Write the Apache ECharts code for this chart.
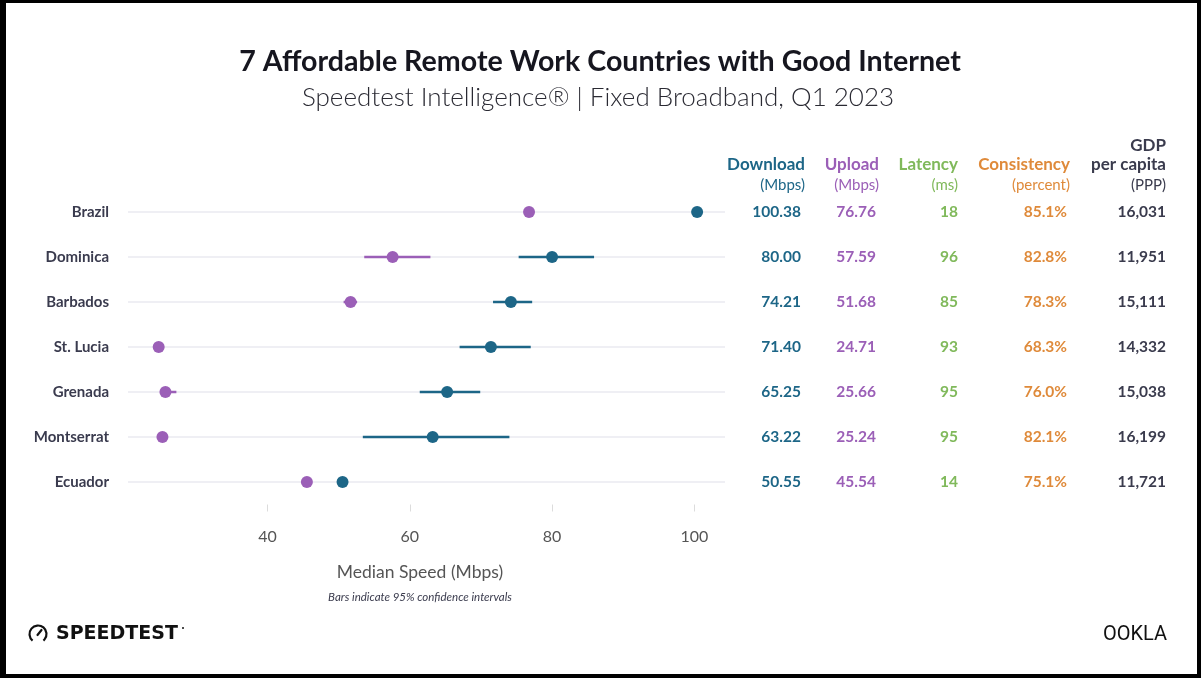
<!DOCTYPE html>
<html>
<head>
<meta charset="utf-8">
<script src="https://cdn.jsdelivr.net/npm/echarts@6/dist/echarts.min.js"></script>
<style>
html,body{margin:0;padding:0;background:#fff;}
#chart{width:1201px;height:678px;}
</style>
</head>
<body>
<div id="chart"></div>
<script>
const categories = ['Brazil', 'Dominica', 'Barbados', 'St. Lucia', 'Grenada', 'Montserrat', 'Ecuador'];
const download = [100.38, 80.00, 74.21, 71.40, 65.25, 63.22, 50.55];
const downloadLow = [100.1, 75.3, 71.7, 67.0, 61.4, 53.4, 50.3];
const downloadHigh = [100.7, 85.9, 77.2, 77.0, 69.9, 74.0, 50.8];
const upload = [76.76, 57.59, 51.68, 24.71, 25.66, 25.24, 45.54];
const uploadLow = [76.5, 53.6, 50.7, 24.4, 25.0, 24.9, 45.3];
const uploadHigh = [77.0, 62.9, 52.6, 25.0, 27.2, 25.6, 45.8];
const latency = [18, 96, 85, 93, 95, 95, 14];
const consistency = [85.1, 82.8, 78.3, 68.3, 76.0, 82.1, 75.1];
const gdp = [16031, 11951, 15111, 14332, 15038, 16199, 11721];
const xTicks = [40, 60, 80, 100];
const columnHeaders = ['Download', 'Upload', 'Latency', 'Consistency', 'per capita'];
const columnUnits = ['(Mbps)', '(Mbps)', '(ms)', '(percent)', '(PPP)'];

const FONT = 'Lato, "Noto Sans", sans-serif';
const C_DL = '#1d6687';
const C_UL = '#9b5fb7';
const C_LAT = '#80b95b';
const C_CON = '#df8a3a';
const C_GDP = '#3a3b4d';
const headerColors = [C_DL, C_UL, C_LAT, C_CON, C_GDP];
const headerRight = [805, 879, 958, 1070, 1166];
const valueRight = [801, 876, 958, 1067, 1166];
const X_MIN = 20.4, X_MAX = 104.3;

const chart = echarts.init(document.getElementById('chart'), null, {renderer: 'canvas'});

const graphics = [
  // frame
  {type: 'rect', shape: {x: 0, y: 0, width: 6, height: 678}, style: {fill: '#000'}, z: 100},
  {type: 'rect', shape: {x: 0, y: 0, width: 1201, height: 3}, style: {fill: '#000'}, z: 100},
  {type: 'rect', shape: {x: 1197, y: 0, width: 4, height: 678}, style: {fill: '#000'}, z: 100},
  {type: 'rect', shape: {x: 0, y: 674, width: 1201, height: 4}, style: {fill: '#000'}, z: 100},
  {type: 'text', x: 600, y: 62, style: {text: '7 Affordable Remote Work Countries with Good Internet', font: 'bold 28.6px ' + FONT, fill: '#16161f', textAlign: 'center', textVerticalAlign: 'middle'}},
  {type: 'text', x: 598, y: 98, style: {text: 'Speedtest Intelligence\u00AE | Fixed Broadband, Q1 2023', font: '300 26px ' + FONT, fill: '#2a2a33', textAlign: 'center', textVerticalAlign: 'middle'}},
  {type: 'text', x: 1166, y: 146, style: {text: 'GDP', font: 'bold 17px ' + FONT, fill: C_GDP, textAlign: 'right', textVerticalAlign: 'middle'}},
  {type: 'text', x: 420, y: 572, style: {text: 'Median Speed (Mbps)', font: '17.5px ' + FONT, fill: '#555', textAlign: 'center', textVerticalAlign: 'middle'}},
  {type: 'text', x: 420, y: 597, style: {text: 'Bars indicate 95% confidence intervals', font: 'italic 11.5px ' + FONT, fill: '#3a3b4d', textAlign: 'center', textVerticalAlign: 'middle'}},
  // Speedtest logo
  {type: 'arc', shape: {cx: 38, cy: 634, r: 8.5, startAngle: Math.PI * 0.72, endAngle: Math.PI * 2.28}, style: {stroke: '#111', lineWidth: 2.2, fill: 'none'}},
  {type: 'line', shape: {x1: 37.5, y1: 635, x2: 41.5, y2: 630}, style: {stroke: '#111', lineWidth: 2.2, lineCap: 'round'}},
  {type: 'text', x: 56, y: 634, style: {text: 'SPEEDTEST', font: 'bold 19px "DejaVu Sans", sans-serif', fill: '#111', textAlign: 'left', textVerticalAlign: 'middle'}},
  {type: 'circle', shape: {cx: 183, cy: 628, r: 1}, style: {fill: '#111'}},
  {type: 'text', x: 1103, y: 635, style: {text: 'OOKLA', font: '400 20px Roboto, sans-serif', fill: '#111', textAlign: 'left', textVerticalAlign: 'middle'}}
];
columnHeaders.forEach((h, k) => {
  graphics.push({type: 'text', x: headerRight[k], y: 165, style: {text: h, font: 'bold 17px ' + FONT, fill: headerColors[k], textAlign: 'right', textVerticalAlign: 'middle'}});
  graphics.push({type: 'text', x: headerRight[k], y: 185, style: {text: columnUnits[k], font: '15px ' + FONT, fill: headerColors[k], textAlign: 'right', textVerticalAlign: 'middle'}});
});

function errorBar(color) {
  return function (params, api) {
    const p1 = api.coord([api.value(0), api.value(2)]);
    const p2 = api.coord([api.value(1), api.value(2)]);
    return {type: 'line', shape: {x1: p1[0], y1: p1[1], x2: p2[0], y2: p2[1]}, style: {stroke: color, lineWidth: 2.5}};
  };
}

const option = {
  backgroundColor: '#fff',
  animation: false,
  textStyle: {fontFamily: FONT},
  grid: {left: 128, right: 1201 - 725, top: 189.5, bottom: 678 - 504.5, containLabel: false},
  xAxis: {
    type: 'value', min: X_MIN, max: X_MAX,
    axisLine: {show: false},
    splitLine: {show: false},
    axisTick: {show: true, customValues: xTicks, length: 7, lineStyle: {color: '#dcdcdc', width: 1}},
    axisLabel: {customValues: xTicks, color: '#555', fontSize: 16, margin: 24, fontFamily: FONT}
  },
  yAxis: {
    type: 'category', data: categories, inverse: true,
    axisLine: {show: false}, axisTick: {show: false}, splitLine: {show: false},
    axisLabel: {color: '#3a3b4e', fontSize: 15, fontWeight: 'bold', margin: 19, fontFamily: FONT}
  },
  graphic: graphics,
  series: [
    {
      type: 'custom', name: 'rows', silent: true, clip: false, z: 1,
      data: categories.map((c, i) => [X_MIN, X_MAX, i]),
      encode: {x: [0, 1], y: 2},
      renderItem: function (params, api) {
        const p1 = api.coord([api.value(0), api.value(2)]);
        const p2 = api.coord([api.value(1), api.value(2)]);
        return {type: 'line', shape: {x1: p1[0], y1: p1[1], x2: p2[0], y2: p2[1]}, style: {stroke: '#efeff4', lineWidth: 2}};
      }
    },
    {
      type: 'custom', name: 'Upload CI', z: 2,
      data: categories.map((c, i) => [uploadLow[i], uploadHigh[i], i]),
      encode: {x: [0, 1], y: 2},
      renderItem: errorBar(C_UL)
    },
    {
      type: 'custom', name: 'Download CI', z: 2,
      data: categories.map((c, i) => [downloadLow[i], downloadHigh[i], i]),
      encode: {x: [0, 1], y: 2},
      renderItem: errorBar(C_DL)
    },
    {
      type: 'scatter', name: 'Upload', z: 3, symbolSize: 12,
      itemStyle: {color: C_UL, opacity: 1},
      data: upload.map((v, i) => [v, i])
    },
    {
      type: 'scatter', name: 'Download', z: 3, symbolSize: 12,
      itemStyle: {color: C_DL, opacity: 1},
      data: download.map((v, i) => [v, i])
    },
    {
      type: 'custom', name: 'table', clip: false, silent: true, z: 4,
      data: categories.map((c, i) => [X_MIN, i]),
      encode: {x: 0, y: 1},
      renderItem: function (params, api) {
        const i = params.dataIndex;
        const y = api.coord([api.value(0), api.value(1)])[1];
        const vals = [
          download[i].toFixed(2),
          upload[i].toFixed(2),
          String(latency[i]),
          consistency[i].toFixed(1) + '%',
          gdp[i].toLocaleString('en-US')
        ];
        return {
          type: 'group',
          children: vals.map((t, k) => ({
            type: 'text', x: valueRight[k], y: y,
            style: {text: t, font: 'bold 15.5px ' + FONT, fill: headerColors[k], textAlign: 'right', textVerticalAlign: 'middle'}
          }))
        };
      }
    }
  ]
};
chart.setOption(option);
</script>
</body>
</html>
